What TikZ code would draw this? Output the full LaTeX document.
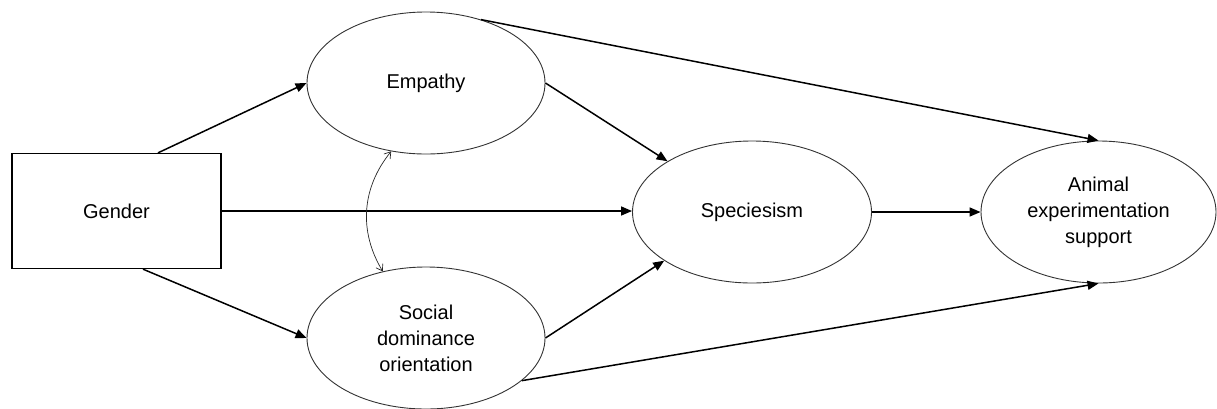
\documentclass[tikz,border=0pt]{standalone}
\usepackage{fontspec}
\setmainfont{Liberation Sans}
\usetikzlibrary{shapes.geometric,arrows.meta}
\begin{document}
\begin{tikzpicture}[x=1pt,y=-1pt,
  every node/.style={font=\fontsize{20}{26}\selectfont},
  latent/.style={ellipse,draw=black!80,line width=0.9pt,inner sep=0pt,align=center,fill=white},
  obsbox/.style={rectangle,draw=black,line width=1.3pt,inner sep=0pt,align=center},
  path/.style={line width=1.5pt,-{Triangle[length=11pt,width=9pt]}},
  cov/.style={line width=0.7pt,black!85,{Straight Barb[length=6pt,width=8pt]}-{Straight Barb[length=6pt,width=8pt]}}
]
\useasboundingbox (0,0) rectangle (1217,408);
\node[obsbox,minimum width=209pt,minimum height=115pt] (G) at (116.5,211) {Gender};
\node[latent,minimum width=238pt,minimum height=142pt] (E) at (426,83) {Empathy};
\node[latent,minimum width=238pt,minimum height=142pt] (D) at (426,338) {Social\\dominance\\orientation};
\node[latent,minimum width=239pt,minimum height=142pt] (S) at (752,212) {Speciesism};
\node[latent,minimum width=235pt,minimum height=142pt] (A) at (1098.5,212) {Animal\\experimentation\\support};
\draw[path] ([xshift=41.5pt]G.north) -- (E.west);
\draw[path] ([xshift=26.5pt]G.south) -- (D.west);
\draw[path] (G.east) -- (G.east -| S.west);
\draw[path] (E.east) -- (S.149);
\draw[path] (D.east) -- (S.-151);
\draw[path] (E.49) -- (A.north);
\draw[path] (D.-24) -- (A.south);
\draw[path] (S.east) -- (A.west);
\draw[cov] (E.-117) to[bend right=35] (D.123);
\end{tikzpicture}
\end{document}
